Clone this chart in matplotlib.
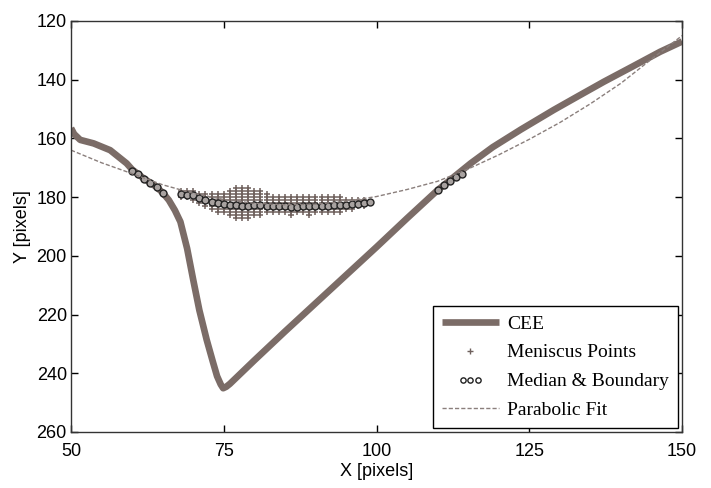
import numpy as np
import matplotlib
matplotlib.use("Agg")
from matplotlib import pyplot as plt
from matplotlib.legend_handler import HandlerLine2D

# CEE contour
cee_x = [50, 50.5, 51.5, 53.7, 56.4, 59.1, 60, 61, 62, 63, 64, 65, 66, 67, 67.9, 69, 70,
         71, 72.2, 73.2, 73.9, 74.5, 74.9, 75.4, 76, 80, 85, 90, 95, 100, 105, 110,
         115.4, 119, 123.6, 129, 133, 137.2, 142, 146.4, 150]
cee_y = [156.5, 158.5, 160.5, 161.7, 164, 168.5, 170.6, 172.2, 173.8, 175.1, 176.6, 178.5,
         181, 184.5, 188.4, 197.5, 208.2, 218.5, 228.6, 236, 241, 243.8, 245.1, 244.6,
         243.6, 235.6, 225.8, 216.2, 206.6, 197, 187.2, 177.6, 168.5, 163, 157, 150.3,
         145.6, 140.7, 135.4, 130.5, 127]

# meniscus point columns: x, lowest y, highest y
men_x = list(range(68, 99))
men_lo = [178, 178, 178, 179, 179, 179, 179, 179, 178, 177, 177, 177, 178, 178, 179, 180,
          180, 180, 180, 180, 180, 180, 180, 180, 180, 180, 180, 181, 181, 181, 181]
men_hi = [180, 180, 181, 182, 183, 184, 185, 185, 186, 187, 187, 187, 186, 186, 185, 185,
          185, 185, 186, 185, 185, 186, 185, 185, 185, 185, 185, 184, 184, 183, 183]

# median & boundary points
med_x = [60, 61, 62, 63, 64, 65] + list(range(68, 100)) + [110, 111, 112, 113, 114]
med_y = [171, 172.2, 173.8, 175.1, 176.6, 178.5,
         179, 179.2, 179.4, 180.3, 181, 181.5, 181.9, 182.3, 182.7, 182.8, 182.9, 182.9,
         182.8, 182.8, 182.9, 183, 183, 183.1, 183.2, 183.2, 183.1, 183.1, 183, 183,
         182.9, 182.8, 182.7, 182.6, 182.4, 182.2, 182, 181.5,
         177.6, 176, 174.6, 173.3, 172]

# parabolic fit
fit_x = [50, 55, 60, 65, 70, 75, 80, 85, 90, 95, 100, 105, 110, 115, 120, 125, 130, 135,
         140, 145, 150]
fit_y = [164, 168.3, 172, 175.8, 178.7, 180.8, 182.1, 182.6, 182.4, 181.4, 179.8, 177.4,
         174.6, 170.4, 165.6, 160.3, 154.6, 148.2, 141.2, 133, 125]

px, py = [], []
for x, lo, hi in zip(men_x, men_lo, men_hi):
    for y in range(lo, hi + 1):
        px.append(x)
        py.append(y)


class CompactHandler(HandlerLine2D):
    # markers bunched in the middle of the handle, like the matlab legend
    def __init__(self, n, gap, **kw):
        HandlerLine2D.__init__(self, numpoints=n, **kw)
        self.n = n
        self.gap = gap

    def get_xdata(self, legend, xdescent, ydescent, width, height, fontsize):
        c = -xdescent + width / 2.0
        xm = c + (np.arange(self.n) - (self.n - 1) / 2.0) * self.gap
        return xm, xm


plt.rcParams['font.family'] = ['Liberation Sans', 'DejaVu Sans']

fig = plt.figure(figsize=(7.11, 4.88), dpi=100)
ax = fig.add_axes([0.0999, 0.1148, 0.8594, 0.8422])

l1, = ax.plot(cee_x, cee_y, "-", color="#7b6c67", lw=4.8, solid_capstyle="butt", label="CEE")
l2, = ax.plot(px, py, "+", color="#6f615d", ms=4.5, mew=1.1, ls="none", label="Meniscus Points")
l3, = ax.plot(med_x, med_y, "o", mfc="#a8a2a0", mec="#222222", ms=5, mew=1.0, ls="none",
              label="Median & Boundary")
l4, = ax.plot(fit_x, fit_y, "--", color="#8a7f7c", lw=1.0, dashes=(3, 1.5), label="Parabolic Fit")

ax.set_xlim(50, 150)
ax.set_ylim(260, 120)
ax.set_xticks([50, 75, 100, 125, 150])
ax.set_yticks([120, 140, 160, 180, 200, 220, 240, 260])
ax.tick_params(direction="in", top=True, right=True, length=5, width=1, labelsize=13)
ax.tick_params(axis="x", pad=8)
ax.tick_params(axis="y", pad=3)
for s in ax.spines.values():
    s.set_linewidth(1.0)
    s.set_color("#333333")
ax.set_xlabel("X [pixels]", fontsize=13, labelpad=2)
ax.set_ylabel("Y [pixels]", fontsize=13, labelpad=4)

# smaller markers just for the legend
h2 = plt.Line2D([], [], marker="+", color="#6f615d", ms=4, mew=1.0, ls="none")
h3 = plt.Line2D([], [], marker="o", mfc="white", mec="#222222", ms=3.8, mew=1.0, ls="none")

leg = ax.legend(handles=[l1, h2, h3, l4], labels=["CEE", "Meniscus Points", "Median & Boundary", "Parabolic Fit"],
                loc="lower right",
                bbox_to_anchor=(0.9536, 0.123), bbox_transform=fig.transFigure,
                borderaxespad=0, fancybox=False, framealpha=1, edgecolor="black",
                prop={"family": "Liberation Serif", "size": 14},
                handlelength=2.9, handletextpad=0.45, labelspacing=0.58,
                borderpad=0.45,
                handler_map={h2: CompactHandler(1, 0), h3: CompactHandler(3, 5.5)})
leg.get_frame().set_linewidth(1.0)

plt.savefig("out.png", dpi=100)
